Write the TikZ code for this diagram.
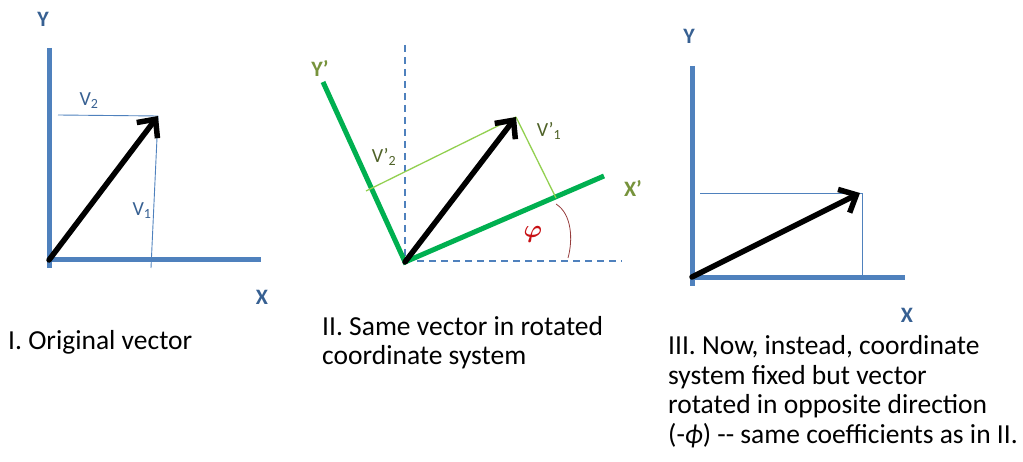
\documentclass[tikz,border=0pt]{standalone}
\usepackage{fontspec}
\setmainfont{Carlito}
\usetikzlibrary{arrows.meta, positioning}
\definecolor{axisblue}{RGB}{79,129,189}
\definecolor{labelblue}{RGB}{55,96,146}
\definecolor{rotgreen}{RGB}{0,176,80}
\definecolor{projgreen}{RGB}{146,208,80}
\definecolor{olivelabel}{RGB}{119,147,60}
\definecolor{olivedark}{RGB}{79,98,40}
\definecolor{phired}{RGB}{200,16,20}
\definecolor{arcbrown}{RGB}{150,60,60}
\tikzset{
  axis/.style={line width=5pt, color=axisblue},
  rotaxis/.style={line width=5pt, color=rotgreen},
  refline/.style={line width=1.3pt, dash pattern=on 7pt off 5pt, color=axisblue},
  compline/.style={line width=0.9pt, color=axisblue},
  projline/.style={line width=1.3pt, color=projgreen},
  vec/.style={-{Straight Barb[length=14pt, width=26pt]}, line width=5.5pt, line cap=round},
  axlabel/.style={font=\fontsize{22}{22}\selectfont\bfseries, text=labelblue},
  rotlabel/.style={font=\fontsize{22}{22}\selectfont\bfseries, text=olivelabel},
  complabel/.style={font=\fontsize{20}{20}\selectfont, text=labelblue},
  phimark/.style={text=phired, font=\fontsize{46}{46}\selectfont\boldmath},
  caption/.style={font=\fontsize{27.5}{29.5}\selectfont, align=left, anchor=base west, inner sep=0pt},
}
\begin{document}
\begin{tikzpicture}[x=1pt, y=-1pt]
  \useasboundingbox (0,0) rectangle (1023,462);

  %% Panel I: original vector
  \coordinate (oA) at (49,260);
  \coordinate (tipA) at (158,116);
  \draw[axis] (49,48) -- (49,268);
  \draw[axis] (47,260) -- (261,260);
  \node[axlabel] (yA) at (43,19) {Y};
  \node[axlabel] (xA) at (262,297) {X};
  \draw[compline] (58,115) -- (tipA);
  \draw[compline] (tipA) -- (151,268);
  \draw[vec] (oA) -- (tipA);
  \node[complabel] (vtwoA) at (89,101) {V\textsubscript{2}};
  \node[complabel] (voneA) at (142,211) {V\textsubscript{1}};
  \node[caption] (capA) at (8,350) {I. Original vector};

  %% Panel II: rotated coordinate system
  \coordinate (oB) at (405,262);
  \coordinate (tipB) at (516,117);
  \coordinate (footx) at (556,198);
  \draw[refline] (405,45) -- (405,261);
  \draw[refline] (405,261) -- (622,261);
  \draw[rotaxis] (323,82) -- (oB) -- (604,176);
  \node[rotlabel] (yB) at (320,69) {Y’};
  \node[rotlabel] (xB) at (633,188) {X’};
  \draw[projline] (366,191) -- (tipB);
  \draw[projline] (tipB) -- (footx);
  \draw[vec] (oB) -- (tipB);
  \node[complabel, text=olivedark] (vtwoB) at (384,157) {V’\textsubscript{2}};
  \node[complabel, text=olivedark] (voneB) at (549,131) {V’\textsubscript{1}};
  \node[phimark] (phi) at (533,234) {$\varphi$};
  \draw[arcbrown, line width=0.8pt] (footx) ++(0,6) .. controls (572,214) and (573,240) .. (568,258);
  \node[caption] (capB) at (322,365) {II. Same vector in rotated\\coordinate system};

  %% Panel III: fixed system, vector rotated back
  \coordinate (oC) at (692,277);
  \coordinate (tipC) at (860,193);
  \draw[axis] (692,66) -- (692,286);
  \draw[axis] (690,278) -- (905,278);
  \node[axlabel] (yC) at (689,36) {Y};
  \node[axlabel] (xC) at (907,315) {X};
  \draw[compline] (700,193) -- (862,193) -- (862,278);
  \draw[vec] (oC) -- (tipC);
  \node[caption] (capC) at (668,443) {III. Now, instead, coordinate\\system fixed but vector\\rotated in opposite direction\\(-\textit{ϕ}) -{}- same coefficients as in II.};
\end{tikzpicture}
\end{document}
